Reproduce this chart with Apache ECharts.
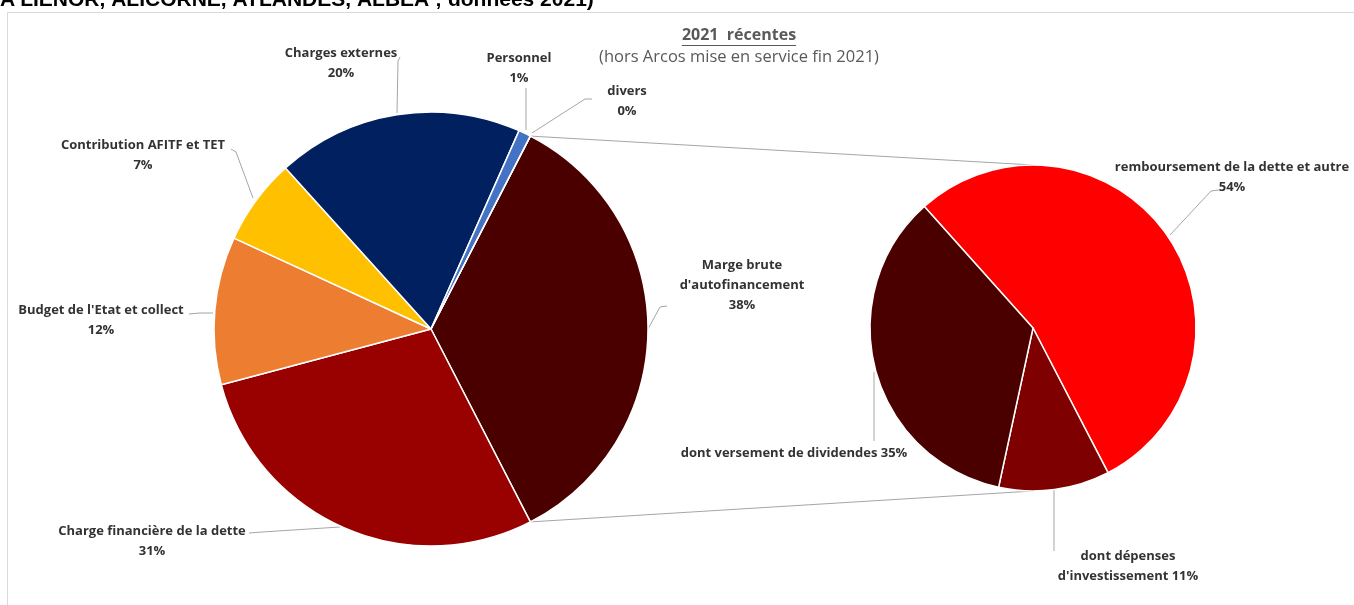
<!DOCTYPE html>
<html>
<head>
<meta charset="utf-8">
<script src="https://cdn.jsdelivr.net/npm/echarts@6/dist/echarts.min.js"></script>
<style>
  html, body { margin: 0; padding: 0; background: #fff; }
  #chart { width: 1354px; height: 605px; }
</style>
</head>
<body>
<div id="chart"></div>
<script>
// Uses of motorway revenue (% of resources), clockwise from the top of the gross-margin slice
const mainNames = ["Marge brute\nd'autofinancement", 'Charge financière de la dette', "Budget de l'Etat et collect",
                   'Contribution AFITF et TET', 'Charges externes', 'Personnel', 'divers'];
const mainValues = [38, 31, 12, 7, 20, 1, 0];

// Breakdown of the gross margin (secondary pie)
const subNames = ['remboursement de la dette et autre', "dont dépenses\nd'investissement", 'dont versement de dividendes'];
const subValues = [54, 11, 35];

const headline = "A'LIENOR, ALICORNE, ATLANDES, ALBEA ; données 2021)";
const titleLine1 = '2021  récentes';
const titleLine2 = '(hors Arcos mise en service fin 2021)';

// ---- presentation ----
const mainColors = ['#4B0000', '#990000', '#ED7D31', '#FFC000', '#002060', '#4472C4', '#A5A5A5'];
const subColors = ['#FF0000', '#7F0000', '#4B0000'];
const subSep = ['\n', ' ', ' '];

const MAIN = { cx: 431, cy: 329, r: 217 };
const SUB = { cx: 1033, cy: 328, r: 163, start: 131.8 };

const mainTotal = mainValues.reduce((a, b) => a + b, 0);
const marginAngle = 360 * mainValues[0] / mainTotal;
MAIN.start = marginAngle / 2;   // gross-margin slice faces the secondary pie

// label anchors and leader lines
const mainLabelLayout = [
  { x: 742, y: 285, line: [[648, 329], [660, 307], [667, 306]] },
  { x: 152, y: 541, line: [[340, 527], [262, 532], [249, 533]] },
  { x: 101, y: 320, line: [[213, 313], [200, 313], [189, 314]] },
  { x: 143, y: 155, line: [[253, 198], [236, 152], [231, 149]] },
  { x: 341, y: 63,  line: [[397, 113], [398, 61], [400, 57]] },
  { x: 519, y: 68,  line: [[526, 130], [526, 95], [526, 88]] },
  { x: 627, y: 101, line: [[532, 133], [585, 99], [592, 99]] }
];
const subLabelLayout = [
  { x: 1232, y: 177, line: [[1170, 235], [1211, 191], [1219, 190]] },
  { x: 1128, y: 566, line: [[1054, 490], [1054, 540], [1054, 551]] },
  { x: 794,  y: 453, line: [[874, 372], [874, 420], [874, 441]] }
];

const labelFont = {
  fontFamily: 'Open Sans',
  fontSize: 13,
  fontWeight: 'bold',
  color: '#333333',
  lineHeight: 20,
  align: 'center'
};
const leader = { show: true, smooth: false, length: 10, length2: 10, lineStyle: { color: '#A6A6A6', width: 1 } };

function polar(c, angleDeg, r) {
  const a = angleDeg * Math.PI / 180;
  return [c.cx + r * Math.cos(a), c.cy - r * Math.sin(a)];
}

// connector lines from the gross-margin slice to the secondary pie
const topFrom = polar(MAIN, MAIN.start, MAIN.r);
const botFrom = polar(MAIN, MAIN.start - marginAngle, MAIN.r);
const topTo = [SUB.cx, SUB.cy - SUB.r];
const botTo = [SUB.cx, SUB.cy + SUB.r];

// underline width for the title's first line
const ctx = document.createElement('canvas').getContext('2d');
ctx.font = 'bold 16px "Open Sans"';
const t1w = ctx.measureText(titleLine1).width;

const chart = echarts.init(document.getElementById('chart'), null, { renderer: 'canvas' });

chart.setOption({
  backgroundColor: '#fff',
  animation: false,
  graphic: [
    { type: 'rect', z: 0, shape: { x: 7.5, y: 12.5, width: 1400, height: 700 },
      style: { fill: 'none', stroke: '#D9D9D9', lineWidth: 1 } },
    { type: 'text', z: 1, style: { text: headline, x: 0, y: 11, verticalAlign: 'bottom',
      fontFamily: 'Liberation Sans', fontSize: 21, fontWeight: 'bold', fill: '#000' } },
    { type: 'text', z: 1, style: { text: titleLine1, x: 739, y: 35, align: 'center', verticalAlign: 'middle',
      fontFamily: 'Open Sans', fontSize: 16, fontWeight: 'bold', fill: '#595959' } },
    { type: 'line', z: 1, shape: { x1: 739 - t1w / 2, y1: 45.5, x2: 739 + t1w / 2, y2: 45.5 },
      style: { stroke: '#595959', lineWidth: 1 } },
    { type: 'text', z: 1, style: { text: titleLine2, x: 739, y: 57, align: 'center', verticalAlign: 'middle',
      fontFamily: 'Open Sans', fontSize: 16.5, fill: '#595959' } },
    { type: 'line', z: 1, shape: { x1: topFrom[0], y1: topFrom[1], x2: topTo[0], y2: topTo[1] },
      style: { stroke: '#A6A6A6', lineWidth: 1 } },
    { type: 'line', z: 1, shape: { x1: botFrom[0], y1: botFrom[1], x2: botTo[0], y2: botTo[1] },
      style: { stroke: '#A6A6A6', lineWidth: 1 } }
  ],
  series: [
    {
      type: 'pie',
      center: [MAIN.cx, MAIN.cy],
      radius: [0, MAIN.r],
      startAngle: MAIN.start,
      clockwise: true,
      avoidLabelOverlap: false,
      minShowLabelAngle: 0,
      data: mainNames.map((n, i) => ({ name: n, value: mainValues[i], itemStyle: { color: mainColors[i] } })),
      itemStyle: { borderColor: '#fff', borderWidth: 1.5 },
      label: Object.assign({ show: true, position: 'outside',
        formatter: p => p.name + '\n' + p.value + '%' }, labelFont),
      labelLine: leader,
      labelLayout: p => {
        const L = mainLabelLayout[p.dataIndex];
        return { x: L.x, y: L.y, align: 'center', verticalAlign: 'middle', labelLinePoints: L.line };
      },
      emphasis: { disabled: true }
    },
    {
      type: 'pie',
      center: [SUB.cx, SUB.cy],
      radius: [0, SUB.r],
      startAngle: SUB.start,
      clockwise: true,
      avoidLabelOverlap: false,
      data: subNames.map((n, i) => ({ name: n, value: subValues[i], itemStyle: { color: subColors[i] } })),
      itemStyle: { borderColor: '#fff', borderWidth: 1.5 },
      label: Object.assign({ show: true, position: 'outside',
        formatter: p => p.name + subSep[p.dataIndex] + p.value + '%' }, labelFont),
      labelLine: leader,
      labelLayout: p => {
        const L = subLabelLayout[p.dataIndex];
        return { x: L.x, y: L.y, align: 'center', verticalAlign: 'middle', labelLinePoints: L.line };
      },
      emphasis: { disabled: true }
    }
  ]
});
</script>
</body>
</html>
